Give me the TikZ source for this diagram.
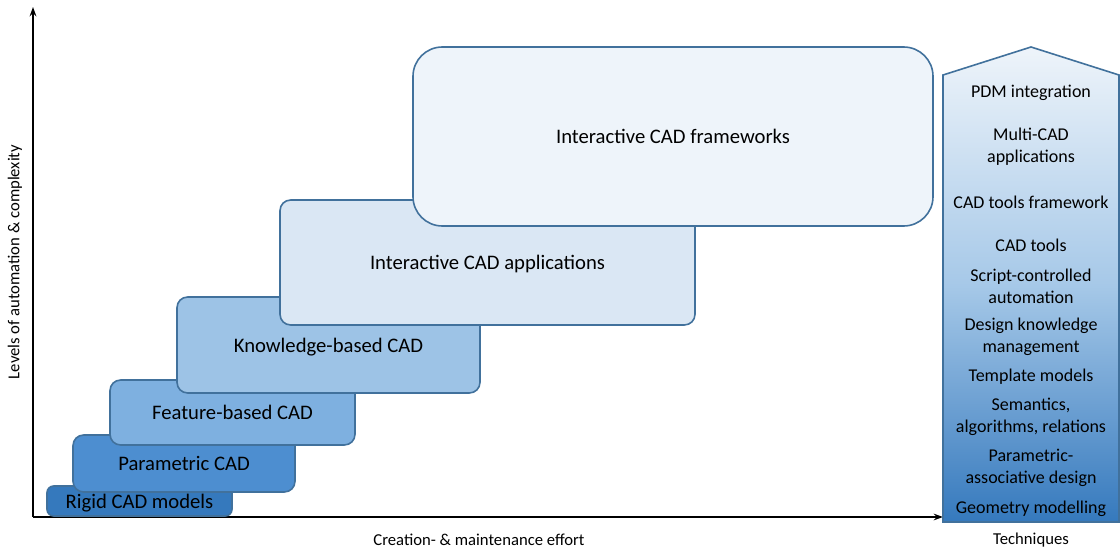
\documentclass[tikz,border=0pt]{standalone}
\usepackage{fontspec}
\setmainfont{Carlito}
\usetikzlibrary{arrows.meta}

\definecolor{lvlline}{HTML}{41719C}
\definecolor{lvlA}{HTML}{3579BD}
\definecolor{lvlB}{HTML}{4D8ED0}
\definecolor{lvlC}{HTML}{7EB0E0}
\definecolor{lvlD}{HTML}{9DC3E6}
\definecolor{lvlE}{HTML}{DAE7F4}
\definecolor{lvlF}{HTML}{EEF4FA}

\tikzstyle{lvl} = [style={draw=lvlline, line width=1.2pt, rounded corners=8pt, inner sep=0pt, text depth=0pt, font=\fontsize{15.5}{18}\selectfont}]
\tikzstyle{tech} = [style={align=center, inner sep=0pt, yshift=-1.5pt, font=\fontsize{13.5}{16.5}\selectfont}]
\tikzstyle{axlbl} = [style={inner sep=0pt, font=\fontsize{12.5}{14}\selectfont}]
\newcommand*{\px}{0.75pt}
\newcommand*{\colx}{1031}

\begin{document}
\begin{tikzpicture}[x=0.75pt, y=-0.75pt]
\useasboundingbox (0,0) rectangle (1120,549);

%% axes
\coordinate (origin) at (33,517);
\coordinate (ytop) at (33,7);
\coordinate (xend) at (943,517);
\draw [line width=1.5pt, -{Stealth[length=7pt,width=5pt]}] (origin) -- (ytop);
\draw [line width=1.5pt, -{Stealth[length=7pt,width=5pt]}] (origin) -- (xend);

\node [axlbl, rotate=90] (ylbl) at (15,262) {Levels of automation \& complexity};
\node [axlbl] (xlbl) at (479,540) {Creation- \& maintenance effort};

%% levels
\node [lvl, fill=lvlA, minimum width=185*\px, minimum height=30*\px, rounded corners=5pt] (rigid) at (139.5,501) {Rigid CAD models};
\node [lvl, fill=lvlB, minimum width=222*\px, minimum height=57*\px] (param) at (184,463.5) {Parametric CAD};
\node [lvl, fill=lvlC, minimum width=245*\px, minimum height=65*\px] (feat) at (232.5,412.5) {Feature-based CAD};
\node [lvl, fill=lvlD, minimum width=303*\px, minimum height=96*\px] (know) at (328.5,345) {Knowledge-based CAD};
\node [lvl, fill=lvlE, minimum width=415*\px, minimum height=125*\px] (apps) at (487.5,262.5) {Interactive CAD applications};
\node [lvl, fill=lvlF, minimum width=520*\px, minimum height=179*\px, rounded corners=22pt] (frame) at (673,136.5) {Interactive CAD frameworks};

%% techniques
\shade [top color=lvlF, bottom color=lvlA, middle color=lvlD!85!lvlE, draw=lvlline, line width=1.2pt]
  (943,522) -- (943,75) -- (\colx,47) -- (1119,75) -- (1119,522) -- cycle;

\node [tech] (t1) at (\colx,91) {PDM integration};
\node [tech] (t2) at (\colx,145) {Multi-CAD\\applications};
\node [tech] (t3) at (\colx,200) {CAD tools framework};
\node [tech] (t4) at (\colx,243) {CAD tools};
\node [tech] (t5) at (\colx,284) {Script-controlled\\automation};
\node [tech] (t6) at (\colx,335) {Design knowledge\\management};
\node [tech] (t7) at (\colx,375) {Template models};
\node [tech] (t8) at (\colx,415) {Semantics,\\algorithms, relations};
\node [tech] (t9) at (\colx,466) {Parametric-\\associative design};
\node [tech] (t10) at (\colx,507) {Geometry modelling};

\node [axlbl] (tlbl) at (\colx,540) {Techniques};

\end{tikzpicture}
\end{document}
